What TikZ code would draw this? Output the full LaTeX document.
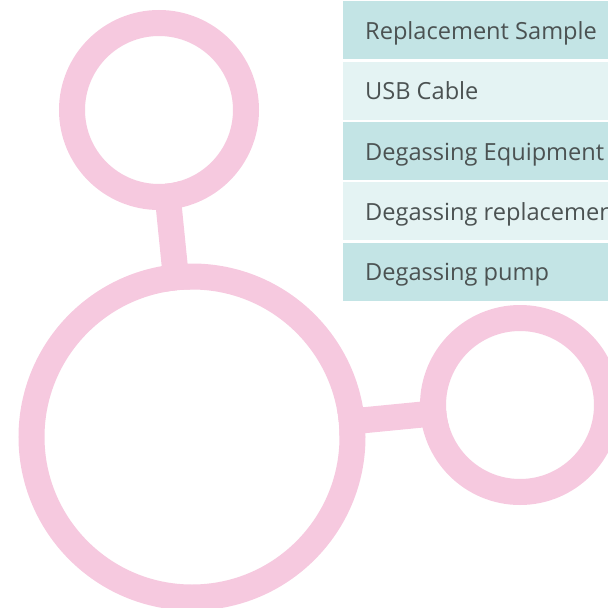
\documentclass[tikz,border=0pt]{standalone}
\usepackage{fontspec}
\setmainfont{Open Sans}
\definecolor{ringpink}{HTML}{F6C9DF}
\definecolor{rowdark}{HTML}{C3E4E5}
\definecolor{rowlight}{HTML}{E4F3F3}
\definecolor{txtgray}{HTML}{4B5252}
\begin{document}
\begin{tikzpicture}[x=1pt,y=-1pt,
  ring/.style={draw=ringpink,line width=26pt,circle,minimum size=#1,inner sep=0pt},
  link/.style={draw=ringpink,line width=26pt},
  rowbox/.style={fill=#1,draw=none,minimum width=290pt,minimum height=58pt,anchor=north west,inner sep=0pt},
  rowtext/.style={anchor=base west,text=txtgray,inner sep=0pt,font=\fontsize{23.6}{25}\selectfont}]
\useasboundingbox (0,0) rectangle (608,608);
\clip (0,0) rectangle (608,608);
\coordinate (ct) at (159,110);
\coordinate (cb) at (192,437);
\coordinate (cr) at (520,405);
\draw[link] (ct) -- (cb);
\draw[link] (cb) -- (cr);
\fill[white] (ct) circle (74);
\fill[white] (cb) circle (147.5);
\fill[white] (cr) circle (74);
\node[ring=174pt] (top) at (ct) {};
\node[ring=321pt] (big) at (cb) {};
\node[ring=174pt] (right) at (cr) {};
\node[rowbox=rowdark] (r1) at (343,1) {};
\node[rowbox=rowlight] (r2) at (343,62) {};
\node[rowbox=rowdark] (r3) at (343,122) {};
\node[rowbox=rowlight] (r4) at (343,182) {};
\node[rowbox=rowdark] (r5) at (343,243) {};
\node[rowtext] (t1) at (365,39.5) {Replacement Sample};
\node[rowtext] (t2) at (365,99.5) {USB Cable};
\node[rowtext] (t3) at (365,160) {Degassing Equipment};
\node[rowtext] (t4) at (365,220) {Degassing replacement};
\node[rowtext] (t5) at (365,280.5) {Degassing pump};
\end{tikzpicture}
\end{document}
